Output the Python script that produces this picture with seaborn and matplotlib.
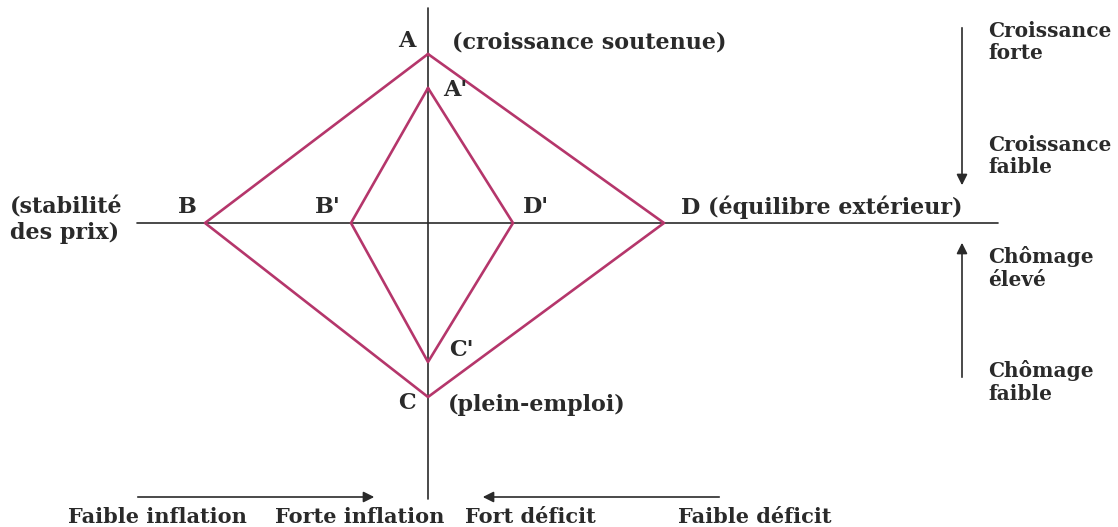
import numpy as np
import pandas as pd
import matplotlib
matplotlib.use('Agg')
import matplotlib.pyplot as plt
import seaborn as sns

# magic square: reach of each objective from the centre (diagram units)
vertices = ['A', 'B', 'C', 'D']
outer_reach = [169, 223, 174, 236]   # A, B, C, D
inner_reach = [135, 77, 139, 85]     # A', B', C', D'
# A = growth (up), B = price stability (left), C = full employment (down), D = external balance (right)
directions = {'A': (0, 1), 'B': (-1, 0), 'C': (0, -1), 'D': (1, 0)}

bottom_labels = ['Faible inflation', 'Forte inflation', 'Fort déficit', 'Faible déficit']
right_labels = ['Croissance\nforte', 'Croissance\nfaible', 'Chômage\nélevé', 'Chômage\nfaible']

LINE = '#b5366b'
INK = '#2a2a2a'

rows = []
for shape, reach in [('outer', outer_reach), ('inner', inner_reach)]:
    order = vertices + [vertices[0]]
    for i, v in enumerate(order):
        r = reach[vertices.index(v)]
        dx, dy = directions[v]
        rows.append({'shape': shape, 'step': i, 'x': dx * r, 'y': dy * r})
df = pd.DataFrame(rows)

sns.set_theme(style='white')
plt.rcParams['font.family'] = ['DejaVu Serif']

fig = plt.figure(figsize=(11.18, 5.27), dpi=100)
ax = fig.add_axes([0, 0, 1, 1])
ax.set_xlim(-428, 690)
ax.set_ylim(-304, 223)
ax.axis('off')

# axes of the diagram
ax.plot([-291, 570], [0, 0], color=INK, lw=1.2, zorder=1)
ax.plot([0, 0], [215, -276], color=INK, lw=1.2, zorder=1)

sns.lineplot(data=df, x='x', y='y', hue='shape', palette=[LINE, LINE],
             sort=False, estimator=None, legend=False, lw=1.9, ax=ax, zorder=2)
ax.set_xlabel(''); ax.set_ylabel('')

tf = dict(fontsize=16, fontweight='bold', color=INK)
A, B, C, D = outer_reach
A2, B2, C2, D2 = inner_reach
ax.text(-12, A + 13, 'A', ha='right', va='center', **tf)
ax.text(24, A + 12, '(croissance soutenue)', ha='left', va='center', **tf)
ax.text(15, A2 - 2, "A'", ha='left', va='center', **tf)
ax.text(-B - 18, 16, 'B', ha='center', va='center', **tf)
ax.text(-B2 - 23, 16, "B'", ha='center', va='center', **tf)
ax.text(D2 + 23, 16, "D'", ha='center', va='center', **tf)
ax.text(D + 17, 16, 'D (équilibre extérieur)', ha='left', va='center', **tf)
ax.text(-418, 3, '(stabilité\ndes prix)', ha='left', va='center', linespacing=1.2, **tf)
ax.text(21, -C2 + 12, "C'", ha='left', va='center', **tf)
ax.text(-12, -C - 6, 'C', ha='right', va='center', **tf)
ax.text(20, -C - 8, '(plein-emploi)', ha='left', va='center', **tf)

# right-hand scale arrows and labels
arw = dict(arrowstyle='-|>', color=INK, lw=1.2, mutation_scale=16)
ax.annotate('', xy=(534, 35), xytext=(534, 198), arrowprops=arw)
ax.annotate('', xy=(534, -17), xytext=(534, -157), arrowprops=arw)
for lab, yy in zip(right_labels, [181, 67, -45, -159]):
    ax.text(560, yy, lab, ha='left', va='center', fontsize=14.5, fontweight='bold',
            color=INK, linespacing=1.15)

# bottom scale arrows and labels
ax.annotate('', xy=(-51, -274), xytext=(-293, -274), arrowprops=arw)
ax.annotate('', xy=(52, -274), xytext=(294, -274), arrowprops=arw)
for lab, xx in zip(bottom_labels, [-271, -68, 102, 327]):
    ax.text(xx, -294, lab, ha='center', va='center', fontsize=15, fontweight='bold', color=INK)

plt.savefig('out.png', dpi=100)
plt.close()
